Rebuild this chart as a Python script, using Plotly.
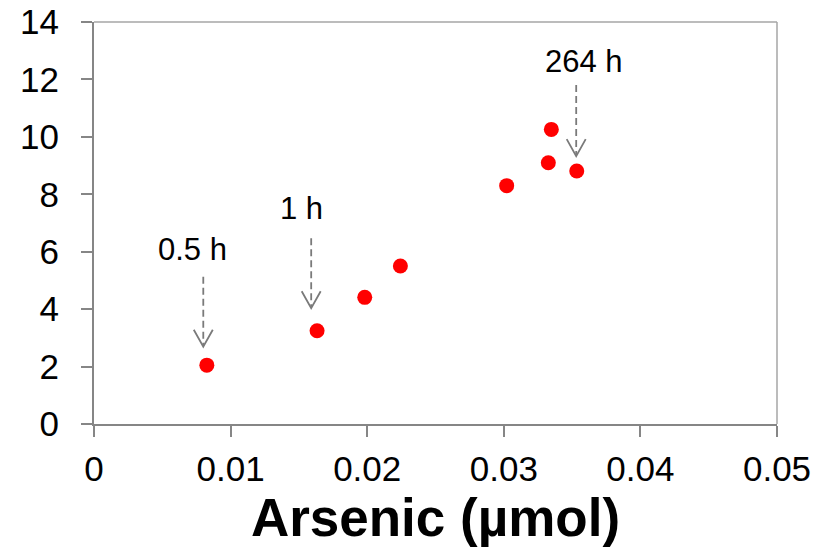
import plotly.graph_objects as go

# ---- data ----
arsenic_umol = [0.00826, 0.01633, 0.01982, 0.02243, 0.03021, 0.03326, 0.03348, 0.03534]
y_values = [2.05, 3.25, 4.41, 5.50, 8.30, 9.10, 10.26, 8.81]

x_ticks = [0, 0.01, 0.02, 0.03, 0.04, 0.05]
x_tick_labels = ["0", "0.01", "0.02", "0.03", "0.04", "0.05"]
y_ticks = [0, 2, 4, 6, 8, 10, 12, 14]
y_tick_labels = ["0", "2", "4", "6", "8", "10", "12", "14"]

arrow_labels = ["0.5 h", "1 h", "264 h"]
arrow_x = [0.0080, 0.0159, 0.0353]
arrow_top = [5.13, 6.47, 11.81]
arrow_tip = [2.69, 4.03, 9.33]
label_x = [0.0072, 0.0152, 0.0359]
label_y = [6.06, 7.51, 12.62]

# ---- layout geometry ----
W, H = 829, 553
ML, MR, MT, MB = 94, 52, 22, 129
XR = [0, 0.05]
YR = [0, 14]
px_per_x = (W - ML - MR) / (XR[1] - XR[0])
px_per_y = (H - MT - MB) / (YR[1] - YR[0])

GRAY = "#868686"
ARROW = "#7a7a7a"

fig = go.Figure()
fig.add_trace(go.Scatter(
    x=arsenic_umol, y=y_values, mode="markers",
    marker=dict(color="#ff0000", size=15, line=dict(width=0)),
    showlegend=False, hoverinfo="skip"))

shapes = []
# frame top/right (lighter)
shapes.append(dict(type="line", xref="x domain", yref="y domain", x0=0, x1=1, y0=1, y1=1,
                   line=dict(color="#a6a6a6", width=1.5)))
shapes.append(dict(type="line", xref="x domain", yref="y domain", x0=1, x1=1, y0=0, y1=1,
                   line=dict(color="#a6a6a6", width=1.5)))

half_w = 9.5 / px_per_x
head_h = 17.0 / px_per_y
annotations = []
for lab, ax, yt, yb, lx, ly in zip(arrow_labels, arrow_x, arrow_top, arrow_tip, label_x, label_y):
    shapes.append(dict(type="line", xref="x", yref="y", x0=ax, x1=ax, y0=yt, y1=yb + 1.5 / px_per_y,
                       line=dict(color=ARROW, width=1.8, dash="7px,4px")))
    shapes.append(dict(type="path", xref="x", yref="y",
                       path=f"M {ax - half_w},{yb + head_h} L {ax},{yb} L {ax + half_w},{yb + head_h}",
                       line=dict(color=ARROW, width=1.8)))
    annotations.append(dict(x=lx, y=ly, xref="x", yref="y", text=lab, showarrow=False,
                            font=dict(size=31, color="black", family="Liberation Sans, Arial")))

fig.update_layout(
    width=W, height=H,
    margin=dict(l=ML, r=MR, t=MT, b=MB),
    paper_bgcolor="white", plot_bgcolor="white",
    font=dict(family="Liberation Sans, Arial", color="black"),
    shapes=shapes, annotations=annotations,
    xaxis=dict(range=XR, tickvals=x_ticks, ticktext=x_tick_labels, automargin=False,
               showgrid=False, zeroline=False, showline=True, linecolor=GRAY, linewidth=2,
               ticks="outside", ticklen=11, tickwidth=2, tickcolor=GRAY,
               tickfont=dict(size=35, color="black"), ticklabelstandoff=2,
               title=dict(text="<b>Arsenic (µmol)</b>", font=dict(size=53, color="black"), standoff=6)),
    yaxis=dict(range=YR, tickvals=y_ticks, ticktext=y_tick_labels, automargin=False,
               showgrid=False, zeroline=False, showline=True, linecolor=GRAY, linewidth=2,
               ticks="outside", ticklen=11, tickwidth=2, tickcolor=GRAY,
               tickfont=dict(size=35, color="black"), ticklabelstandoff=15),
)

fig.write_html("out.html")
